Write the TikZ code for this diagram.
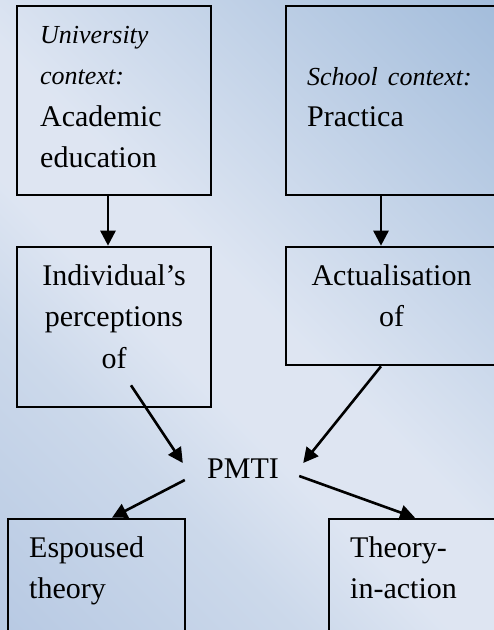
\documentclass[tikz,border=0pt]{standalone}
\usepackage{fontspec}
\setmainfont{Liberation Serif}
\usepackage{tikz}
\usetikzlibrary{arrows.meta}
\pgfdeclarehorizontalshading{slidebg}{100bp}{rgb(0bp)=(0.72,0.79,0.89); rgb(14.6bp)=(0.72,0.79,0.89); rgb(33.7bp)=(0.80,0.85,0.92); rgb(43bp)=(0.87,0.90,0.95); rgb(51.4bp)=(0.87,0.90,0.95); rgb(85.4bp)=(0.64,0.74,0.86); rgb(100bp)=(0.64,0.74,0.86)}
\tikzstyle{framebox}=[draw=black, line width=2.6pt, shape=rectangle, inner sep=0pt]
\tikzstyle{boxtext}=[inner sep=0pt, font=\fontsize{30}{41.5}\selectfont]
\newcommand{\ctx}[1]{{\fontsize{26}{41.5}\selectfont\itshape #1}}

\begin{document}
\begin{tikzpicture}[x=1pt, y=-1pt]
\useasboundingbox (0,0) rectangle (494,630);
\clip (0,0) rectangle (494,630);
\shade[shading=slidebg, shading angle=45] (0,0) rectangle (494,630);

\node [framebox, minimum width=194pt, minimum height=189pt] (acad) at (114,100.5) {};
\node [framebox, minimum width=211pt, minimum height=189pt] (school) at (391.5,100.5) {};
\node [framebox, minimum width=194pt, minimum height=160pt] (indiv) at (114,327) {};
\node [framebox, minimum width=211pt, minimum height=118pt] (actual) at (391.5,306) {};
\node [framebox, minimum width=177pt, minimum height=141pt] (espoused) at (96.5,589.5) {};
\node [framebox, minimum width=181pt, minimum height=141pt] (theory) at (419.5,589.5) {};
\node [boxtext, minimum width=120pt, minimum height=26pt, inner sep=0pt] (pmti) at (243,469) {PMTI};

\node [boxtext, text width=165pt, align=left, anchor=base west] (acadtext) at (40,43) {\ctx{University}\\\ctx{context:}\\Academic\\education};
\node [boxtext, text width=180pt, align=left, anchor=base west] (schooltext) at (307,85) {\ctx{School context:}\\Practica};
\node [boxtext, text width=180pt, align=center, anchor=base] (indivtext) at (114,285) {Individual’s\\perceptions\\of};
\node [boxtext, text width=180pt, align=center, anchor=base] (actualtext) at (391.5,285) {Actualisation\\of};
\node [boxtext, text width=150pt, align=left, anchor=base west] (espousedtext) at (29,557) {Espoused\\theory};
\node [boxtext, text width=140pt, align=left, anchor=base west] (theorytext) at (350,557) {Theory-\\in-action};

\draw[-{Triangle[length=15pt, width=15pt]}, line width=2.6pt, color=black] ([xshift=-6pt]acad.south) -- ([xshift=-6pt]indiv.north);
\draw[-{Triangle[length=15pt, width=15pt]}, line width=2.6pt, color=black] ([xshift=-10.5pt]school.south) -- ([xshift=-10.5pt]actual.north);
\draw[-{Triangle[length=15pt, width=15pt]}, line width=2.6pt, color=black] ([xshift=17pt, yshift=23pt]indiv.south) -- ([yshift=6pt]pmti.west);
\draw[-{Triangle[length=15pt, width=15pt]}, line width=2.6pt, color=black] ([xshift=-10.5pt]actual.south) -- ([yshift=6pt]pmti.east);
\draw[-{Triangle[length=15pt, width=15pt]}, line width=2.6pt, color=black] ([xshift=2pt, yshift=-11pt]pmti.west) -- ([xshift=15.5pt]espoused.north);
\draw[-{Triangle[length=15pt, width=15pt]}, line width=2.6pt, color=black] ([xshift=-4pt, yshift=-7pt]pmti.east) -- ([xshift=-4.5pt]theory.north);
\end{tikzpicture}
\end{document}
